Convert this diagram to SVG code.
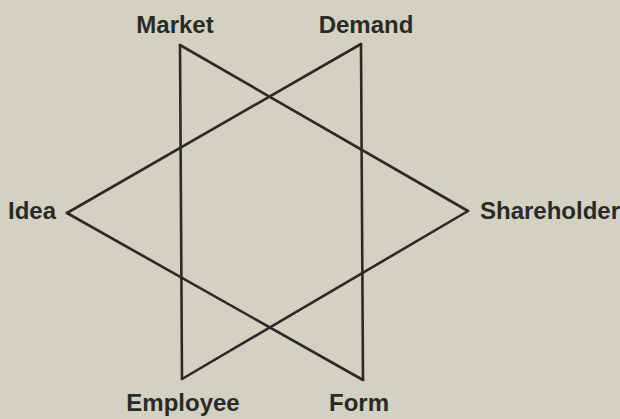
<svg xmlns="http://www.w3.org/2000/svg" width="620" height="419" viewBox="0 0 620 419">
<style>
.lbl{font-family:"Liberation Sans",Arial,sans-serif;font-size:24px;font-weight:bold;fill:#2b2a26}
.edge{stroke:#2b2a26;stroke-width:2.6;stroke-linecap:round;fill:none}
</style>
<rect width="620" height="419" fill="#d3d2c2"/>
<g id="connectors">
<line class="edge" x1="180" y1="45" x2="182" y2="379"/>
<line class="edge" x1="180" y1="45" x2="468" y2="211"/>
<line class="edge" x1="468" y1="211" x2="182" y2="379"/>
<line class="edge" x1="361" y1="44" x2="363" y2="380"/>
<line class="edge" x1="361" y1="44" x2="67" y2="213"/>
<line class="edge" x1="67" y1="213" x2="363" y2="380"/>
</g>
<g id="market"><text class="lbl" x="175" y="33" text-anchor="middle">Market</text></g>
<g id="demand"><text class="lbl" x="366" y="33" text-anchor="middle">Demand</text></g>
<g id="idea"><text class="lbl" x="8" y="219">Idea</text></g>
<g id="shareholder"><text class="lbl" x="480" y="219">Shareholder</text></g>
<g id="employee"><text class="lbl" x="183" y="411" text-anchor="middle">Employee</text></g>
<g id="form"><text class="lbl" x="359" y="411" text-anchor="middle">Form</text></g>
</svg>
